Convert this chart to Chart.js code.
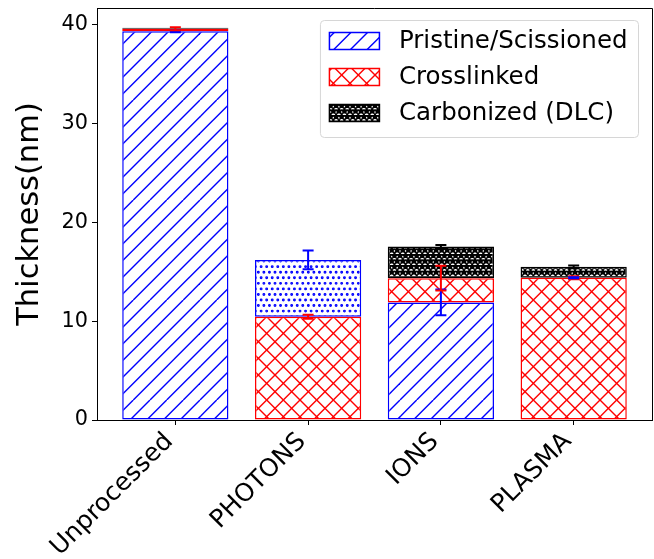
<!DOCTYPE html>
<html>
<head>
<meta charset="utf-8">
<script src="https://cdn.jsdelivr.net/npm/chart.js@4.4.0/dist/chart.umd.min.js"></script>
<style>
  html, body { margin: 0; padding: 0; background: #fff; }
</style>
</head>
<body>
<canvas id="chart" width="654" height="559"></canvas>
<script>
// dados (espessura em nm)
const categorias = ['Unprocessed', 'PHOTONS', 'IONS', 'PLASMA'];
const pristine = [39.35, 0, 11.9, 0];
const crosslinked = [0.25, 10.45, 2.45, 14.4];
const scissioned = [0, 5.75, 0, 0];      // segmento pontilhado (PHOTONS)
const carbonized = [0.1, 0, 3.2, 1.1];
// barras de erro
const pristineErr = [0.1, 0, 1.3, 0];
const crosslinkedErr = [0.15, 0.2, 1.25, 0.15];
const scissionedErr = [0, 0.95, 0, 0.05];
const carbonizedErr = [0, 0, 0.15, 0.15];
const yTicks = [0, 10, 20, 30, 40];

const fonte = 'DejaVu Sans';
Chart.defaults.font.family = fonte;
Chart.defaults.color = '#000';

// hachuras no estilo do matplotlib (unidade de 100px)
function hachura(tipo, cor) {
    let c = document.createElement('canvas');
    c.width = 100; c.height = 100;
    let g = c.getContext('2d');
    g.fillStyle = '#fff';
    g.fillRect(0, 0, 100, 100);
    g.strokeStyle = cor;
    g.fillStyle = cor;
    g.lineWidth = 1.4;
    if (tipo == '/' || tipo == 'x') {
        for (let k = -6; k <= 6; k++) {
            let x0 = k * 100 / 6;
            g.beginPath(); g.moveTo(x0, 100); g.lineTo(x0 + 100, 0); g.stroke();
            if (tipo == 'x') {
                g.beginPath(); g.moveTo(x0, 0); g.lineTo(x0 + 100, 100); g.stroke();
            }
        }
    }
    if (tipo == '.' || tipo == '*') {
        let n = 18, off = 100 / n;
        g.lineWidth = tipo == '*' ? 2.2 : 1.8;
        for (let i = 0; i <= n; i++) {
            let cy = i * off;
            let cols = [];
            if (i % 2 == 0) for (let j = 0; j <= n; j++) cols.push(j * off);
            else for (let j = 0; j < n; j++) cols.push(off / 2 + j * off);
            cols.forEach(cx => {
                g.beginPath();
                if (tipo == '.') {
                    g.arc(cx, cy, off * 0.1, 0, Math.PI * 2);
                } else {
                    let r = off / 3;
                    for (let p = 0; p < 10; p++) {
                        let a = Math.PI / 2 + p * Math.PI / 5;
                        let rr = p % 2 == 0 ? r : r * 0.5;
                        let px = cx + rr * Math.cos(a), py = cy - rr * Math.sin(a);
                        if (p == 0) g.moveTo(px, py); else g.lineTo(px, py);
                    }
                    g.closePath();
                }
                g.fill();
                g.stroke();
            });
        }
    }
    return g.createPattern(c, 'repeat');
}

function pontos(valores) {
    return valores.map((v, i) => ({x: i, y: v}));
}

const series = [
    {label: 'Pristine/Scissioned', valores: pristine, err: pristineErr, cor: 'blue', hatch: '/', legenda: true},
    {label: 'Crosslinked', valores: crosslinked, err: crosslinkedErr, cor: 'red', hatch: 'x', legenda: true},
    {label: 'Scissioned', valores: scissioned, err: scissionedErr, cor: 'blue', hatch: '.', legenda: false},
    {label: 'Carbonized (DLC)', valores: carbonized, err: carbonizedErr, cor: 'black', hatch: '*', legenda: true}
];

// moldura superior e direita
const moldura = {
    id: 'moldura',
    afterDraw(chart) {
        let {ctx, chartArea: a} = chart;
        ctx.save();
        ctx.strokeStyle = '#000';
        ctx.lineWidth = 1;
        ctx.beginPath();
        ctx.moveTo(a.left, Math.round(a.top) + 0.5);
        ctx.lineTo(Math.round(a.right) + 0.5, Math.round(a.top) + 0.5);
        ctx.lineTo(Math.round(a.right) + 0.5, a.bottom);
        ctx.stroke();
        ctx.restore();
    }
};

// barras de erro no topo de cada segmento
const barrasErro = {
    id: 'barrasErro',
    afterDatasetsDraw(chart) {
        let {ctx, scales: {x, y}} = chart;
        let base = categorias.map(() => 0);
        chart.data.datasets.forEach(ds => {
            ds.valores.forEach((v, i) => {
                let topo = base[i] + v;
                base[i] = topo;
                let e = ds.err[i];
                if (!e) return;
                let px = x.getPixelForValue(i);
                let y1 = y.getPixelForValue(topo + e), y2 = y.getPixelForValue(topo - e);
                ctx.save();
                ctx.strokeStyle = ds.corErro;
                ctx.lineWidth = 2;
                ctx.beginPath();
                ctx.moveTo(px, y1); ctx.lineTo(px, y2);
                ctx.moveTo(px - 5.5, y1); ctx.lineTo(px + 5.5, y1);
                ctx.moveTo(px - 5.5, y2); ctx.lineTo(px + 5.5, y2);
                ctx.stroke();
                ctx.restore();
            });
        });
    }
};

// legenda dentro da área do gráfico
const legenda = {
    id: 'legenda',
    afterDraw(chart) {
        let {ctx, chartArea: a} = chart;
        let itens = chart.data.datasets.filter(ds => ds.legenda);
        let tam = 24.5;
        ctx.save();
        ctx.font = tam + 'px "' + fonte + '"';
        let larguraTexto = Math.max(...itens.map(ds => ctx.measureText(ds.label).width));
        let pad = 9.5, hl = 50, hh = 17, tp = 19.5;
        let w = pad + hl + tp + larguraTexto + 10.5;
        let h = 117;
        let x0 = a.right - 14 - w, y0 = a.top + 12;
        ctx.beginPath();
        ctx.roundRect(x0 + 0.5, y0 + 0.5, w, h, 4);
        ctx.fillStyle = 'rgba(255,255,255,0.8)';
        ctx.fill();
        ctx.strokeStyle = '#d6d6d6';
        ctx.lineWidth = 1;
        ctx.stroke();
        itens.forEach((ds, k) => {
            let cy = y0 + 21 + k * 36;
            let sx = x0 + pad;
            ctx.fillStyle = ds.backgroundColor;
            ctx.fillRect(sx, cy - hh / 2, hl, hh);
            ctx.strokeStyle = ds.borderColor;
            ctx.lineWidth = 1.5;
            ctx.strokeRect(sx, cy - hh / 2, hl, hh);
            ctx.fillStyle = '#000';
            ctx.textBaseline = 'middle';
            ctx.textAlign = 'left';
            ctx.fillText(ds.label, sx + hl + tp, cy + 1);
        });
        ctx.restore();
    }
};

let ctx = document.getElementById('chart').getContext('2d');
let grafico = new Chart(ctx, {
    type: 'bar',
    data: {
        datasets: series.map(s => ({
            label: s.label,
            data: pontos(s.valores),
            valores: s.valores,
            err: s.err,
            corErro: s.cor,
            legenda: s.legenda,
            backgroundColor: hachura(s.hatch, s.cor),
            borderColor: s.cor,
            borderWidth: 1.5,
            borderSkipped: false,
            barPercentage: 0.8,
            categoryPercentage: 1.0
        }))
    },
    options: {
        responsive: false,
        animation: false,
        devicePixelRatio: 1,
        layout: {padding: {top: 8, right: 2, left: 0, bottom: 0}},
        plugins: {legend: {display: false}, tooltip: {enabled: false}},
        scales: {
            x: {
                type: 'linear',
                min: -0.59,
                max: 3.59,
                offset: false,
                stacked: true,
                afterFit: s => { s.height = 139; s.paddingLeft = 0; s.paddingRight = 0; },
                afterBuildTicks: s => { s.ticks = categorias.map((c, i) => ({value: i})); },
                ticks: {
                    callback: v => categorias[v] ?? '',
                    autoSkip: false,
                    minRotation: 45,
                    maxRotation: 45,
                    font: {size: 25},
                    color: '#000',
                    padding: 2,
                    labelOffset: -6
                },
                grid: {offset: false, drawOnChartArea: false, drawTicks: true, tickLength: 5, color: '#000', lineWidth: 1},
                border: {display: true, color: '#000', width: 1}
            },
            y: {
                min: 0,
                max: 41.7,
                stacked: true,
                afterFit: s => { s.width = 97; s.paddingTop = 0; s.paddingBottom = 0; },
                afterBuildTicks: s => { s.ticks = yTicks.map(v => ({value: v})); },
                ticks: {font: {size: 20.8}, color: '#000', padding: 4},
                grid: {drawOnChartArea: false, drawTicks: true, tickLength: 5, color: '#000', lineWidth: 1},
                border: {display: true, color: '#000', width: 1},
                title: {display: true, text: 'Thickness(nm)', font: {size: 30.5}, color: '#000', padding: {top: 12, bottom: 0}}
            }
        }
    },
    plugins: [moldura, barrasErro, legenda]
});
</script>
</body>
</html>
